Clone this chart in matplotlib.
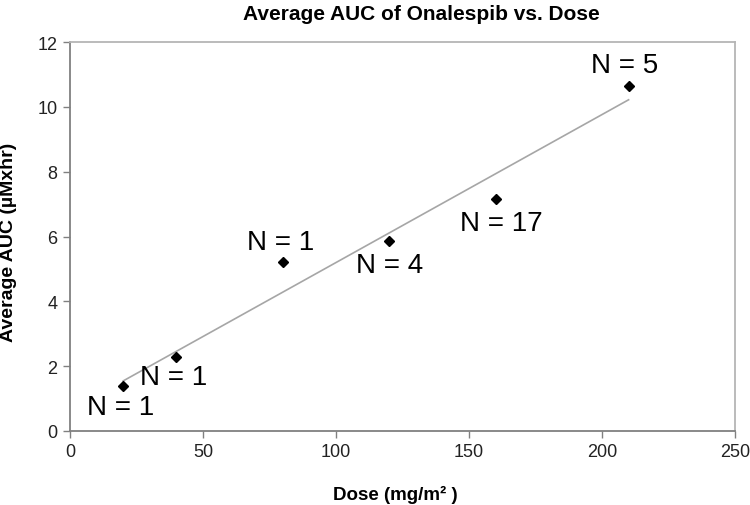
import matplotlib
matplotlib.use('Agg')
import matplotlib.pyplot as plt
import numpy as np

plt.rcParams['font.family'] = ['Liberation Sans', 'DejaVu Sans']

# Data
dose = [20, 40, 80, 120, 160, 210]
auc = [1.4, 2.28, 5.2, 5.86, 7.16, 10.65]
n_labels = ["N = 1", "N = 1", "N = 1", "N = 4", "N = 17", "N = 5"]
label_x = [19, 39, 79, 120, 162, 208.5]
label_y = [0.74, 1.67, 5.83, 5.12, 6.42, 11.3]

x_ticks = [0, 50, 100, 150, 200, 250]
y_ticks = [0, 2, 4, 6, 8, 10, 12]

fig = plt.figure(figsize=(7.5, 5.06), dpi=100)
ax = fig.add_axes([70 / 750, 74 / 506, 665 / 750, 389 / 506])

# linear trendline fitted to the points
slope, intercept = np.polyfit(dose, auc, 1)
xfit = np.array([min(dose), max(dose)])
ax.plot(xfit, slope * xfit + intercept, color='#a6a6a6', lw=1.2, zorder=2)

ax.plot(dose, auc, linestyle='none', marker='D', ms=5.5, color='black', zorder=3)

for lx, ly, txt in zip(label_x, label_y, n_labels):
    ax.text(lx, ly, txt, fontsize=20, ha='center', va='center', color='black')

ax.set_xlim(0, 250)
ax.set_ylim(0, 12)
ax.set_xticks(x_ticks)
ax.set_yticks(y_ticks)
ax.tick_params(direction='out', length=5, width=1, color='#808080',
               labelsize=13, pad=4, labelcolor='#222222')
for side in ['left', 'bottom']:
    ax.spines[side].set_color('#808080')
    ax.spines[side].set_linewidth(1.3)
for side in ['top', 'right']:
    ax.spines[side].set_color('#b5b5b5')
    ax.spines[side].set_linewidth(1.3)

ax.set_xlabel('Dose (mg/m² )', fontsize=13.5, fontweight='bold', va='center')
ax.xaxis.set_label_coords((395 - 70) / 665, -63 / 389)
ax.set_ylabel('Average AUC (µMxhr)', fontsize=14, fontweight='bold', va='center')
ax.yaxis.set_label_coords((9 - 70) / 665, (432 - 242) / 389)
fig.text(421 / 750, 1 - 15 / 506, 'Average AUC of Onalespib vs. Dose',
         fontsize=15, fontweight='bold', ha='center', va='center')

plt.savefig('out.png', dpi=100, facecolor='white')
plt.close()
